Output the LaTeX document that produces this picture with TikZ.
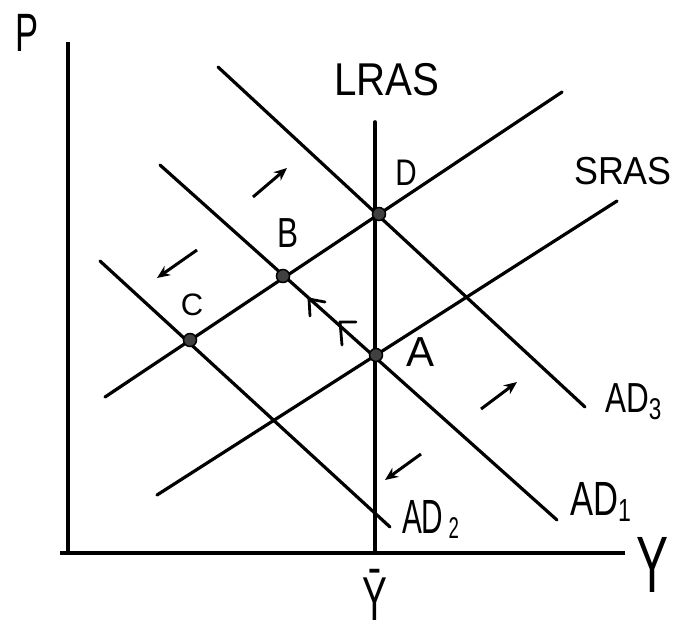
\documentclass[tikz,border=0pt]{standalone}
\usepackage{fontspec}
\setmainfont{Liberation Sans}
\usetikzlibrary{arrows.meta}
\newcommand{\hw}[3]{\scalebox{#1}[1]{\fontsize{#2}{#2}\selectfont #3}}
\begin{document}
\begin{tikzpicture}[x=1pt,y=-1pt,
  curve/.style={line width=3.2pt, line cap=round},
  axis/.style={line width=4pt},
  dot/.style={circle, fill=black!75, draw=black, line width=1.5pt, minimum size=13pt, inner sep=0pt},
  lab/.style={inner sep=0pt, outer sep=0pt},
  move/.style={line width=3pt, -{Stealth[length=13pt,width=11pt]}},
  headmark/.style={line width=2.8pt, line cap=round, line join=round}
]
\useasboundingbox (0,0) rectangle (684,635);
% axes
\coordinate (Ptop) at (68,42);
\coordinate (Pbot) at (68,555);
\coordinate (Xstart) at (60,553);
\coordinate (Xend) at (625,553);
\draw[axis] (Ptop) -- (Pbot);
\draw[axis] (Xstart) -- (Xend);
% curves
\coordinate (L1) at (375,122);  \coordinate (L2) at (375,553);
\coordinate (S1a) at (157,495); \coordinate (S1b) at (617,201);
\coordinate (S2a) at (105,397); \coordinate (S2b) at (562,92);
\coordinate (D1a) at (160,165); \coordinate (D1b) at (557,520);
\coordinate (D2a) at (100,261); \coordinate (D2b) at (390,527);
\coordinate (D3a) at (218,67);  \coordinate (D3b) at (585,407);
\draw[curve, line width=3.6pt] (L1) -- (L2);
\draw[curve] (S1a) -- (S1b);
\draw[curve] (S2a) -- (S2b);
\draw[curve] (D1a) -- (D1b);
\draw[curve] (D2a) -- (D2b);
\draw[curve] (D3a) -- (D3b);
% equilibrium dots
\node[dot] (A) at (376,355) {};
\node[dot] (B) at (283,276) {};
\node[dot] (C) at (190,340) {};
\node[dot] (D) at (379,214) {};
% labels
\node[lab] (lP) at (27,33) {\hw{0.64}{54}{P}};
\node[lab] (lY) at (652,565) {\hw{0.6}{80}{Y}};
\node[lab, anchor=base] (lYbar) at (375,620) {\hw{0.6}{62}{Ȳ}};
\node[lab] (lLRAS) at (387,80) {\hw{0.875}{46}{LRAS}};
\node[lab] (lSRAS) at (623,171) {\hw{0.92}{39}{SRAS}};
\node[lab] (lD) at (406,173) {\hw{0.8}{37}{D}};
\node[lab] (lB) at (288,233) {\hw{0.75}{42}{B}};
\node[lab] (lC) at (192,305) {\hw{1}{31}{C}};
\node[lab] (lA) at (420,352) {\hw{1}{42}{A}};
\node[lab, anchor=base west] (lAD3) at (605,412) {\hw{0.75}{42}{AD\raisebox{-7pt}{\fontsize{30}{30}\selectfont 3}}};
\node[lab, anchor=base west] (lAD1) at (570,515) {\hw{0.72}{48}{AD\raisebox{-6pt}{\fontsize{32}{32}\selectfont 1}}};
\node[lab, anchor=base west] (lAD2) at (402,533) {\hw{0.62}{48}{AD\raisebox{-5pt}{\fontsize{30}{30}\selectfont\ 2}}};
% shift arrows
\coordinate (m1a) at (253,197); \coordinate (m1b) at (287,168);
\coordinate (m2a) at (197,250); \coordinate (m2b) at (157,278);
\coordinate (m3a) at (481,409); \coordinate (m3b) at (517,382);
\coordinate (m4a) at (421,454); \coordinate (m4b) at (385,480);
\draw[move] (m1a) -- (m1b);
\draw[move] (m2a) -- (m2b);
\draw[move] (m3a) -- (m3b);
\draw[move] (m4a) -- (m4b);
% arrowheads along AD1
\coordinate (h1) at (309,299); \coordinate (h1r) at (325,302); \coordinate (h1d) at (310,316);
\coordinate (h2) at (340,322); \coordinate (h2r) at (356,322); \coordinate (h2d) at (342,345);
\draw[headmark] (h1r) -- (h1) -- (h1d);
\draw[headmark] (h2r) -- (h2) -- (h2d);
\end{tikzpicture}
\end{document}
